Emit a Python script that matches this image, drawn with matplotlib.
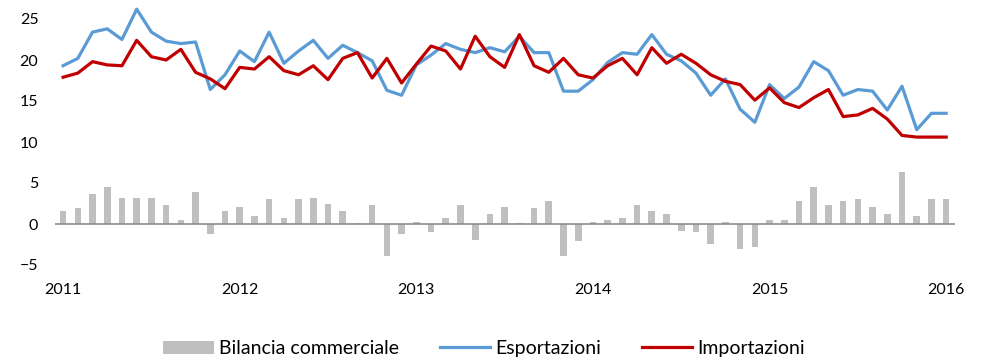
import numpy as np
import matplotlib
matplotlib.use("Agg")
import matplotlib.pyplot as plt

plt.rcParams['font.family'] = ['Lato', 'DejaVu Sans']

# serie mensili gen 2011 - gen 2016
anni = ['2011', '2012', '2013', '2014', '2015', '2016']

esportazioni = [19.3, 20.2, 23.4, 23.8, 22.5, 26.2, 23.4, 22.3, 22.0, 22.2,
                16.4, 18.2, 21.1, 19.8, 23.4, 19.6, 21.1, 22.4, 20.2, 21.8,
                20.9, 19.9, 16.3, 15.7, 19.4, 20.6, 22.0, 21.3, 20.9, 21.5,
                21.0, 22.9, 20.9, 20.9, 16.2, 16.2, 17.6, 19.7, 20.9, 20.7,
                23.1, 20.7, 19.9, 18.4, 15.7, 17.7, 14.0, 12.4, 17.0, 15.3,
                16.7, 19.8, 18.7, 15.7, 16.4, 16.2, 13.9, 16.8, 11.5, 13.5,
                13.5]

importazioni = [17.9, 18.4, 19.8, 19.4, 19.3, 22.4, 20.4, 20.0, 21.3, 18.5,
                17.7, 16.5, 19.1, 18.9, 20.4, 18.7, 18.2, 19.3, 17.6, 20.2,
                20.9, 17.8, 20.2, 17.2, 19.5, 21.7, 21.1, 18.9, 22.9, 20.4,
                19.1, 23.1, 19.3, 18.5, 20.2, 18.2, 17.8, 19.3, 20.2, 18.2,
                21.5, 19.6, 20.7, 19.6, 18.2, 17.4, 17.0, 15.1, 16.6, 14.8,
                14.2, 15.4, 16.4, 13.1, 13.3, 14.1, 12.8, 10.8, 10.6, 10.6,
                10.6]

bilancia = [1.6, 1.9, 3.7, 4.5, 3.2, 3.2, 3.2, 2.3, 0.5, 3.9,
            -1.2, 1.6, 2.1, 1.0, 3.0, 0.7, 3.0, 3.2, 2.5, 1.6,
            0.1, 2.3, -3.9, -1.2, 0.3, -1.0, 0.7, 2.3, -1.9, 1.2,
            2.1, 0.1, 1.9, 2.8, -3.9, -2.1, 0.3, 0.5, 0.7, 2.3,
            1.6, 1.2, -0.8, -1.0, -2.4, 0.3, -3.0, -2.8, 0.5, 0.5,
            2.8, 4.5, 2.3, 2.8, 3.0, 2.1, 1.2, 6.4, 1.0, 3.0,
            3.0]

x = np.arange(len(esportazioni))

fig = plt.figure(figsize=(9.86, 3.61), dpi=100)
ax = fig.add_axes([55/986, (361-273.2)/361, 900/986, (273.2-2.6)/361])

b = ax.bar(x, bilancia, width=0.45, color='#BFBFBF', label='Bilancia commerciale', zorder=2)
l1, = ax.plot(x, esportazioni, color='#5B9BD5', lw=2.3, label='Esportazioni', zorder=3)
l2, = ax.plot(x, importazioni, color='#C00000', lw=2.3, label='Importazioni', zorder=4)
ax.axhline(0, color='#8C8C8C', lw=1.2, zorder=2.5)

ax.set_xlim(-0.55, 60.6)
ax.set_ylim(-6, 27)
ax.set_yticks([-5, 0, 5, 10, 15, 20, 25])
ax.set_xticks(np.arange(0, 61, 12))
ax.set_xticklabels(anni)

for s in ax.spines.values():
    s.set_visible(False)
ax.tick_params(axis='y', length=0, pad=12, labelsize=11.5, labelcolor='#000000')
ax.tick_params(axis='x', length=0, pad=7, labelsize=11.5, labelcolor='#000000')

fig.legend([b, l1, l2], ['Bilancia commerciale', 'Esportazioni', 'Importazioni'],
           loc='center', bbox_to_anchor=(0.491, 0.035), ncol=3, frameon=False,
           fontsize=14, handlelength=2.6, handleheight=0.65, handletextpad=0.25,
           columnspacing=2.1)

fig.savefig('out.png', dpi=100)
